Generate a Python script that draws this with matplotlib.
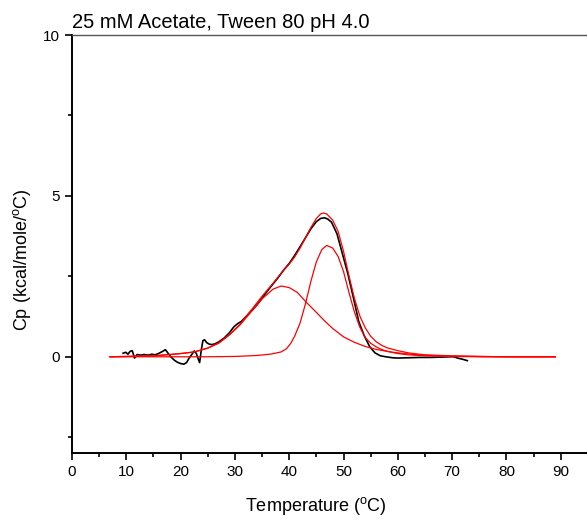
import matplotlib
matplotlib.use("Agg")
import matplotlib.pyplot as plt
from matplotlib.ticker import MultipleLocator, FixedLocator

plt.rcParams['font.family'] = ['Liberation Sans', 'DejaVu Sans']

# measured DSC trace (black)
t_data = [9.4, 9.9, 10.3, 10.7, 11.1, 11.5, 12.0, 12.6, 13.3, 14.0, 14.7, 15.3, 15.9,
          16.6, 17.2, 17.6, 18.2, 18.8, 19.4, 20.0, 20.6, 21.1, 21.6, 22.1, 22.5, 22.9,
          23.2, 23.5, 23.8, 24.1, 24.4, 24.8, 25.3, 25.8, 26.3, 27.0, 28.0, 29.0, 29.8,
          30.5, 31.2, 32.0, 33.0, 34.0, 35.0, 36.0, 37.0, 38.0, 39.0, 40.0, 41.0, 42.0,
          43.0, 44.0, 45.0, 45.8, 46.5, 47.1, 47.8, 48.8, 49.8, 50.8, 51.8, 52.8, 53.8,
          54.8, 55.8, 56.8, 57.8, 59.0, 60.0, 62.0, 64.0, 66.0, 68.0, 69.5, 70.3, 71.0,
          72.0, 72.8]
cp_data = [0.11, 0.14, 0.08, 0.17, 0.19, -0.04, 0.07, 0.05, 0.07, 0.05, 0.08, 0.06, 0.1,
           0.16, 0.22, 0.13, 0.0, -0.1, -0.17, -0.21, -0.23, -0.18, -0.03, 0.08, 0.18, 0.1,
           -0.05, -0.18, 0.2, 0.5, 0.53, 0.44, 0.39, 0.38, 0.4, 0.46, 0.58, 0.75, 0.93,
           1.03, 1.1, 1.24, 1.42, 1.6, 1.82, 2.05, 2.26, 2.47, 2.7, 2.9, 3.15, 3.42,
           3.7, 3.98, 4.2, 4.3, 4.32, 4.28, 4.18, 3.82, 3.2, 2.58, 1.85, 1.1, 0.66,
           0.32, 0.12, 0.03, 0.0, -0.03, -0.04, -0.03, -0.02, -0.02, -0.01, 0.0, 0.0, -0.04,
           -0.08, -0.12]

# broad fitted component
t_broad = [7, 15, 18, 20, 22.5, 25, 27, 29, 31, 33, 35, 37, 38.5, 40, 41.5, 43, 45,
           46.5, 48, 50, 52, 54, 56, 58, 60, 63, 66, 70, 75, 80, 89]
cp_broad = [0.0, 0.03, 0.07, 0.1, 0.15, 0.27, 0.42, 0.68, 1.0, 1.4, 1.8, 2.1, 2.2, 2.15,
            2.0, 1.72, 1.38, 1.12, 0.88, 0.62, 0.45, 0.32, 0.23, 0.17, 0.12, 0.07, 0.04,
            0.02, 0.01, 0.0, 0.0]

# sharp fitted component
t_sharp = [7, 25, 30, 34, 36.5, 38.5, 39.5, 40.3, 41, 42, 43, 44, 45, 46, 46.9, 48, 49,
           50, 51, 52, 53, 54, 55, 56, 57, 58, 60, 62, 65, 70, 75, 89]
cp_sharp = [0.0, 0.0, 0.01, 0.04, 0.08, 0.15, 0.25, 0.42, 0.64, 1.05, 1.65, 2.35, 2.95,
            3.33, 3.46, 3.38, 3.12, 2.65, 2.0, 1.4, 0.92, 0.6, 0.42, 0.31, 0.23, 0.17,
            0.1, 0.06, 0.03, 0.01, 0.0, 0.0]

# total fit
t_sum = [7, 15, 18, 20, 22.5, 25, 27, 29, 31, 33, 35, 37, 39, 40, 41, 42, 43, 44, 45,
         45.8, 46.3, 46.9, 48, 49, 50, 51, 52, 53, 54, 55, 56, 57, 58, 60, 62, 65, 70,
         75, 80, 89]
cp_sum = [0.0, 0.03, 0.07, 0.1, 0.15, 0.27, 0.43, 0.69, 1.02, 1.45, 1.88, 2.28, 2.7,
          2.88, 3.1, 3.38, 3.7, 4.02, 4.3, 4.44, 4.47, 4.44, 4.25, 3.9, 3.28, 2.52, 1.82,
          1.27, 0.9, 0.64, 0.47, 0.36, 0.28, 0.19, 0.12, 0.06, 0.03, 0.01, 0.0, 0.0]

x_ticks = [0, 10, 20, 30, 40, 50, 60, 70, 80, 90]

fig = plt.figure(figsize=(5.87, 5.24), dpi=100)
ax = fig.add_axes([0.1227, 0.1349, 0.925, 0.7983])

ax.plot(t_data, cp_data, color='black', lw=1.2)
ax.plot(t_broad, cp_broad, color='red', lw=0.9)
ax.plot(t_sharp, cp_sharp, color='red', lw=0.9)
ax.plot(t_sum, cp_sum, color='red', lw=0.9)

ax.set_xlim(0, 100)
ax.set_ylim(-3, 10)
ax.xaxis.set_major_locator(FixedLocator(x_ticks))
ax.xaxis.set_minor_locator(FixedLocator([5, 15, 25, 35, 45, 55, 65, 75, 85, 95]))
ax.yaxis.set_major_locator(MultipleLocator(5))
ax.yaxis.set_minor_locator(MultipleLocator(2.5))
ax.tick_params(which='both', direction='out', top=False, right=False, labelsize=11)
ax.tick_params(which='major', length=5, width=1.2)
ax.tick_params(which='minor', length=3, width=1.2)

for s in ['left', 'bottom']:
    ax.spines[s].set_linewidth(1.4)
ax.spines['top'].set_linewidth(1.0)
ax.spines['top'].set_color('#555555')
ax.spines['right'].set_visible(False)

ax.set_xlabel(r'Temperature ($^\mathregular{o}$C)', fontsize=13)
ax.xaxis.set_label_coords(0.449, -0.0997)
ax.set_ylabel(r'Cp (kcal/mole/$^\mathregular{o}$C)', fontsize=13)
ax.yaxis.set_label_coords(-0.072, 0.462)
ax.set_title('25 mM Acetate, Tween 80 pH 4.0', loc='left', fontsize=14.5, pad=5)

fig.savefig('out.png', dpi=100)
